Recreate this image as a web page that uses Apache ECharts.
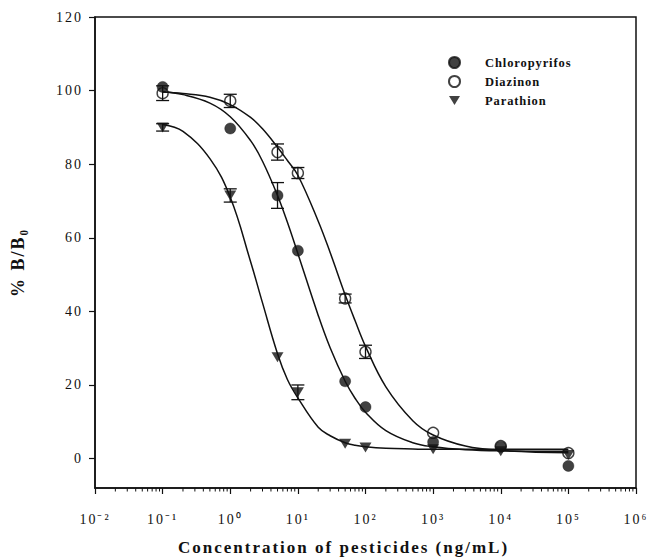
<!DOCTYPE html>
<html><head><meta charset="utf-8">
<script src="https://cdn.jsdelivr.net/npm/echarts@6/dist/echarts.min.js"></script>
<style>
html,body{margin:0;padding:0;background:#fff;}
#chart{width:654px;height:560px;}
#chart svg{opacity:0.999;}
#chart svg text{letter-spacing:2px;}
#chart svg text[style*="12.5px"]{letter-spacing:0.9px;}
</style></head><body><div id="chart"></div>
<script>
// measured points (x: ng/mL)
const concentrations = [0.1, 1, 5, 10, 50, 100, 1000, 10000, 100000];
const chloropyrifos    = [101, 89.7, 71.5, 56.5, 21, 14, 4.5, 3.2, -2];
const chloropyrifosErr = [0, 0, 3.5, 0, 0, 0, 0, 0, 0];
const diazinon    = [99.3, 97.2, 83.3, 77.6, 43.5, 29, 7, 3.4, 1.5];
const diazinonErr = [2, 1.8, 2.2, 1.5, 1.2, 1.8, 0, 0, 0];
const parathion    = [90, 71.5, 27.5, 18, 4, 3, 2.5, 2, 1];
const parathionErr = [1, 1.8, 0, 2, 0, 0, 0, 0, 0];

// fitted curves
const curveX = [0.1, 0.2, 0.5, 1, 2, 3, 5, 7, 10, 20, 30, 50, 70, 100, 200, 500, 1000, 3000, 10000, 100000];
const chloropyrifosFit = [99.7, 98.9, 96.6, 92.9, 86.4, 80.8, 71.5, 64.2, 55.7, 38.9, 30.1, 21.0, 16.4, 12.6, 7.6, 4.3, 3.2, 2.4, 2.1, 2.0];
const diazinonFit      = [99.6, 99.2, 98.2, 96.2, 92.7, 89.6, 84.6, 81.0, 77.0, 64.5, 56.0, 44.5, 37.5, 30.5, 19.5, 10.3, 6.4, 3.4, 2.2, 1.6];
const parathionFit     = [90.8, 88.9, 81.5, 71.0, 53.5, 42.3, 28.5, 21.5, 16.5, 8.5, 6.2, 4.3, 3.6, 3.2, 2.8, 2.6, 2.5, 2.5, 2.5, 2.5];

const seriesNames = ['Chloropyrifos', 'Diazinon', 'Parathion'];
const yTicks = [0, 20, 40, 60, 80, 100, 120];
const xMin = 0.01, xMax = 1e6, yMin = -8, yMax = 120;

const SUP = {'-':'\u207B','0':'\u2070','1':'\u00B9','2':'\u00B2','3':'\u00B3','4':'\u2074','5':'\u2075','6':'\u2076','7':'\u2077','8':'\u2078','9':'\u2079'};
function pow10Label(v){
  const e = String(Math.round(Math.log10(v)));
  return '10' + e.split('').map(c => SUP[c]).join('');
}

const minorTickValues = [];
for (let e = -2; e < 6; e++) for (let k = 2; k <= 9; k++) minorTickValues.push(k * Math.pow(10, e));

const FONT = '"Liberation Serif", "Times New Roman", serif';
const INK = '#111';
const triDown = 'path://M0,0 L12,0 L6,10 Z';

function pts(ys){ return concentrations.map((x, i) => [x, ys[i]]); }
function fit(ys){ return curveX.map((x, i) => [x, ys[i]]); }
function errData(ys, es){
  const out = [];
  concentrations.forEach((x, i) => { if (es[i] > 0) out.push([x, ys[i] - es[i], ys[i] + es[i]]); });
  return out;
}
function errSeries(ys, es){
  return {
    type: 'custom', silent: true, z: 3,
    data: errData(ys, es),
    encode: {x: 0, y: [1, 2]},
    renderItem: function(params, api){
      const x = api.value(0);
      const lo = api.coord([x, api.value(1)]);
      const hi = api.coord([x, api.value(2)]);
      const w = 6.5;
      const st = {stroke: INK, lineWidth: 1.3};
      return {type: 'group', children: [
        {type: 'line', shape: {x1: lo[0], y1: lo[1], x2: hi[0], y2: hi[1]}, style: st},
        {type: 'line', shape: {x1: lo[0] - w, y1: lo[1], x2: lo[0] + w, y2: lo[1]}, style: st},
        {type: 'line', shape: {x1: hi[0] - w, y1: hi[1], x2: hi[0] + w, y2: hi[1]}, style: st}
      ]};
    }
  };
}
function fitSeries(ys){
  return {type: 'line', data: fit(ys), smooth: 0.4, showSymbol: false, symbol: 'none', silent: true, z: 2,
          lineStyle: {color: INK, width: 1.5}};
}

const chart = echarts.init(document.getElementById('chart'), null, {renderer: 'svg'});
chart.setOption({
  animation: false,
  backgroundColor: '#fff',
  grid: {left: 95, right: 18, top: 17, bottom: 72, outerBoundsMode: 'none', containLabel: false,
         show: true, borderColor: INK, borderWidth: 1.5, backgroundColor: 'transparent'},
  legend: {
    orient: 'vertical', left: 443, top: 51, itemWidth: 11, itemHeight: 11, itemGap: 6,
    data: seriesNames,
    textStyle: {fontFamily: FONT, fontWeight: 'bold', fontSize: 12.5, color: INK, padding: [0, 0, 0, 20]}
  },
  xAxis: {
    type: 'log', logBase: 10, min: xMin, max: xMax, splitNumber: 8,
    name: 'Concentration of pesticides (ng/mL)', nameLocation: 'middle', nameGap: 51,
    nameTextStyle: {fontFamily: FONT, fontWeight: 'bold', fontSize: 17, color: INK, padding: [0, 44, 0, 0]},
    axisLine: {onZero: false, lineStyle: {color: INK, width: 1.5}},
    axisTick: {length: 6, lineStyle: {color: INK, width: 1.2}},
    axisLabel: {margin: 24, fontFamily: FONT, fontSize: 14, color: INK, formatter: pow10Label},
    splitLine: {show: false}, minorTick: {show: false}
  },
  yAxis: {
    type: 'value', min: yMin, max: yMax,
    name: '% B/B\u2080', nameLocation: 'middle', nameGap: 68, nameRotate: 90,
    nameTextStyle: {fontFamily: FONT, fontWeight: 'bold', fontSize: 18, color: INK, padding: [0, 20, 0, 0]},
    axisLine: {onZero: false, lineStyle: {color: INK, width: 1.5}},
    axisTick: {length: 6, customValues: yTicks, lineStyle: {color: INK, width: 1.2}},
    axisLabel: {margin: 12, customValues: yTicks, fontFamily: FONT, fontSize: 14, color: INK},
    splitLine: {show: false}
  },
  series: [
    fitSeries(chloropyrifosFit), fitSeries(diazinonFit), fitSeries(parathionFit),
    errSeries(chloropyrifos, chloropyrifosErr), errSeries(diazinon, diazinonErr), errSeries(parathion, parathionErr),
    {name: seriesNames[0], type: 'scatter', data: pts(chloropyrifos), symbol: 'circle', symbolSize: 11, z: 5,
     itemStyle: {color: INK, borderColor: INK, borderWidth: 0.5}},
    {name: seriesNames[1], type: 'scatter', data: pts(diazinon), symbol: 'circle', symbolSize: 11, z: 5,
     itemStyle: {color: 'rgba(255,255,255,0)', borderColor: INK, borderWidth: 1.4}},
    {name: seriesNames[2], type: 'scatter', data: pts(parathion), symbol: triDown, symbolSize: [12, 10], z: 5,
     itemStyle: {color: INK}},
    {type: 'custom', silent: true, z: 6, clip: false,
     data: minorTickValues.map(v => [v, yMin]),
     renderItem: function(params, api){
       const p = api.coord([api.value(0), api.value(1)]);
       return {type: 'line', shape: {x1: p[0], y1: p[1], x2: p[0], y2: p[1] + 3.5}, style: {stroke: INK, lineWidth: 1}};
     }}
  ]
});
</script></body></html>
